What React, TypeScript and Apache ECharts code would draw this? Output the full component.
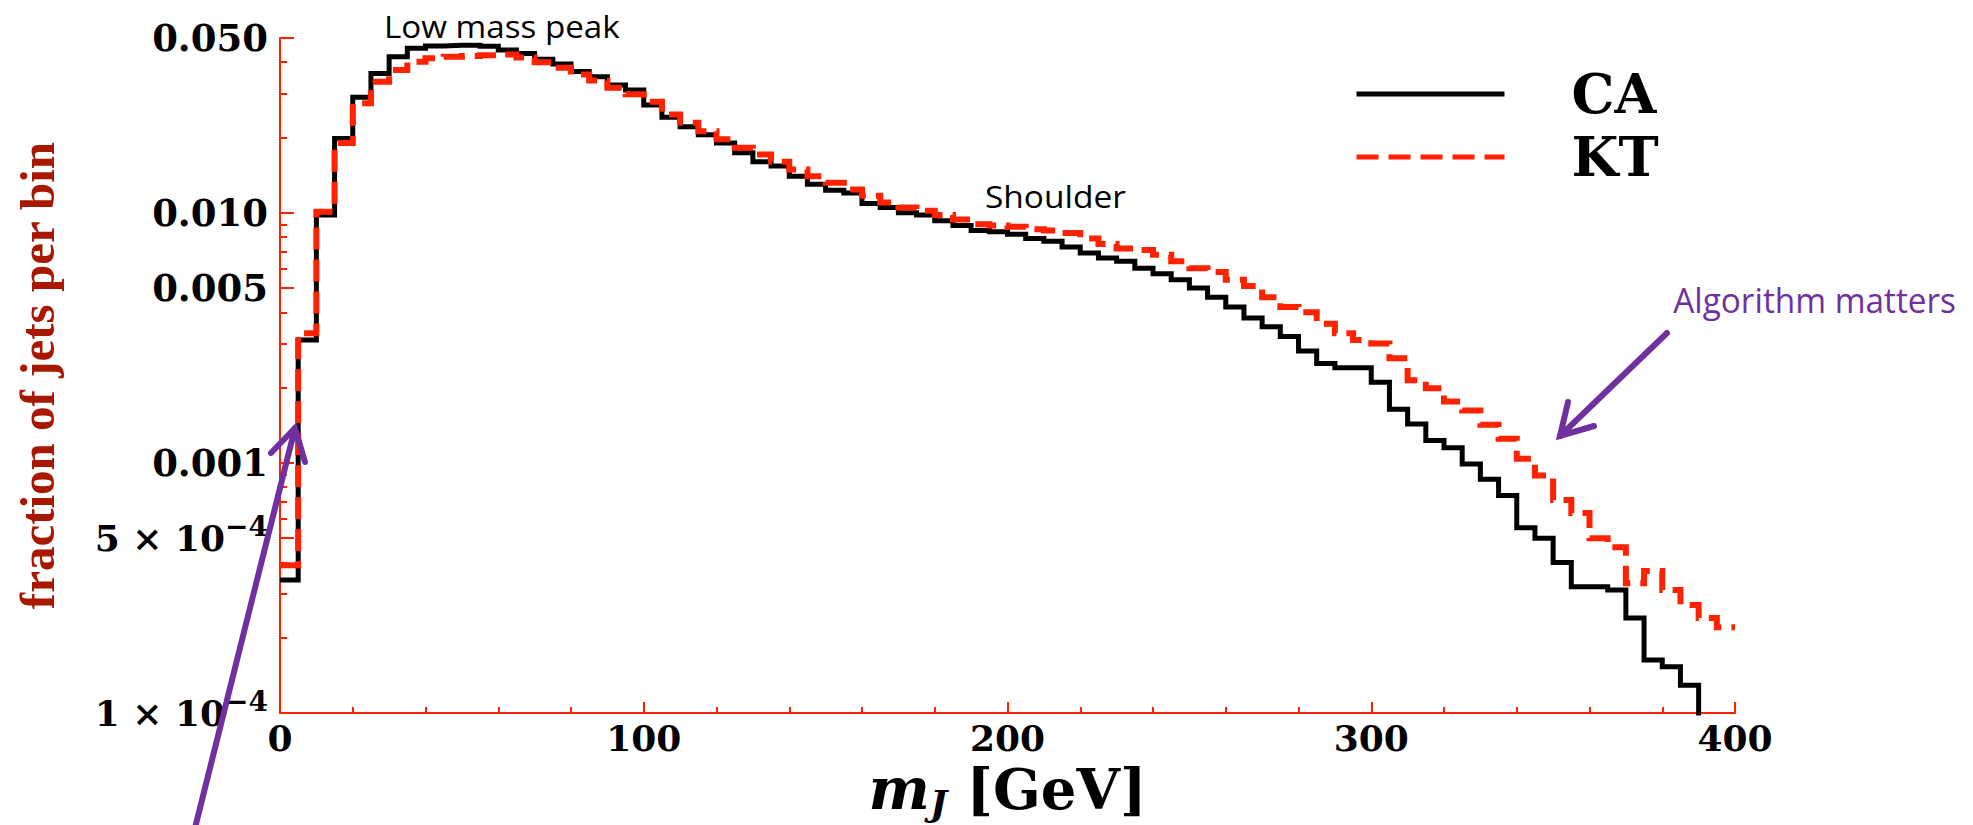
import React, { useEffect, useRef } from "react";
import * as echarts from "echarts";

// ---------------- data ----------------
const BIN_WIDTH_GEV = 5;

// CA: fraction of jets per 5 GeV bin (bins starting at 0, 5, 10, ... GeV); last bin falls below the axis
const caFractions = [
  0.00034, 0.0031, 0.0098, 0.0198, 0.029, 0.0361, 0.0421, 0.0455, 0.0465, 0.0468,
  0.0468, 0.0463, 0.0448, 0.0434, 0.0411, 0.0394, 0.0367, 0.035, 0.0324, 0.031,
  0.027, 0.0241, 0.0221, 0.0205, 0.019, 0.0174, 0.016, 0.0154, 0.014, 0.013,
  0.0123, 0.012, 0.0109, 0.0105, 0.01, 0.0098, 0.0093, 0.0089, 0.0085, 0.0084,
  0.0082, 0.0079, 0.0077, 0.0073, 0.0069, 0.0066, 0.0064, 0.006, 0.0057, 0.0054,
  0.005, 0.0046, 0.0042, 0.0038, 0.0035, 0.0032, 0.0028, 0.0025, 0.0024, 0.0024,
  0.0021, 0.00164, 0.00143, 0.00123, 0.00115, 0.00099, 0.00086, 0.00074, 0.00055, 0.0005,
  0.0004, 0.00032, 0.00032, 0.00031, 0.00024, 0.000163, 0.000153, 0.000129, 0.00008,
];

// KT: fraction of jets per 5 GeV bin
const ktFractions = [
  0.00039, 0.0033, 0.0101, 0.019, 0.0274, 0.0334, 0.0372, 0.0402, 0.0415, 0.0421,
  0.0424, 0.0427, 0.043, 0.0418, 0.04, 0.038, 0.0357, 0.0338, 0.0316, 0.0298,
  0.0278, 0.0247, 0.0229, 0.0212, 0.0197, 0.0182, 0.0171, 0.016, 0.0149, 0.014,
  0.0132, 0.0124, 0.0117, 0.011, 0.0105, 0.0102, 0.0098, 0.0094, 0.009, 0.0089,
  0.0088, 0.0086, 0.0085, 0.0083, 0.0079, 0.0075, 0.0072, 0.0071, 0.0068, 0.0064,
  0.006, 0.0058, 0.0054, 0.0051, 0.0046, 0.0042, 0.004, 0.0036, 0.0033, 0.0031,
  0.003, 0.00262, 0.00214, 0.00199, 0.00176, 0.00162, 0.00142, 0.00125, 0.00104, 0.00089,
  0.00071, 0.00063, 0.0005, 0.00046, 0.00033, 0.00037, 0.00031, 0.00027, 0.00024, 0.00022,
];

const seriesNames = ["CA", "KT"];
const xTickValues = [0, 100, 200, 300, 400];
const yMajorTickValues = [0.0001, 0.0005, 0.001, 0.005, 0.01, 0.05];
const yMajorTickLabels = ["{b|1 × 10}{s|−4}", "{b|5 × 10}{s|−4}", "0.001", "0.005", "0.010", "0.050"];
const yMinorTickValues = [
  0.0002, 0.0003, 0.0004, 0.0006, 0.0007, 0.0008, 0.0009,
  0.002, 0.003, 0.004, 0.006, 0.007, 0.008, 0.009,
  0.02, 0.03, 0.04,
];
const xAxisTitle = "{m|m}{j|J}{g| [GeV]}";
const yAxisTitle = "fraction of jets per bin";
const annotationTexts = ["Low mass peak", "Shoulder", "Algorithm matters"];

// ---------------- styling ----------------
const RED = "#ff2200";
const PURPLE = "#7030a0";
const SERIF = "DejaVu Serif";

function toSteps(values: number[]): [number, number][] {
  const pts: [number, number][] = values.map((v, i) => [i * BIN_WIDTH_GEV, v]);
  pts.push([values.length * BIN_WIDTH_GEV, values[values.length - 1]]);
  return pts;
}

function yLabel(v: number): string {
  const i = yMajorTickValues.findIndex((t) => Math.abs(t - v) / t < 1e-6);
  return i >= 0 ? yMajorTickLabels[i] : "";
}

function buildOption(): any {
  const tickLine = { color: RED, width: 2 };
  return {
    animation: false,
    backgroundColor: "#ffffff",
    grid: {
      left: 280,
      top: 38,
      width: 1455,
      height: 675,
      containLabel: false,
      outerBoundsMode: "none",
    },
    legend: {
      data: seriesNames,
      orient: "vertical",
      left: 1354,
      top: 66,
      padding: 0,
      itemWidth: 148,
      itemHeight: 56,
      itemGap: 7,
      selectedMode: false,
      itemStyle: { opacity: 0 },
      lineStyle: { width: 5 },
      textStyle: {
        fontFamily: SERIF,
        fontWeight: "bold",
        fontSize: 54,
        lineHeight: 56,
        color: "#000",
        padding: [0, 0, 0, 62],
      },
    },
    xAxis: [
      {
        type: "value",
        min: xTickValues[0],
        max: xTickValues[xTickValues.length - 1],
        interval: 100,
        position: "bottom",
        axisLine: { show: true, onZero: false, lineStyle: tickLine },
        axisTick: { show: true, inside: true, length: 11, lineStyle: tickLine },
        minorTick: { show: true, splitNumber: 5, length: 6, lineStyle: tickLine },
        splitLine: { show: false },
        minorSplitLine: { show: false },
        axisLabel: {
          margin: 7,
          color: "#000",
          fontFamily: SERIF,
          fontWeight: "bold",
          fontSize: 36,
        },
        name: xAxisTitle,
        nameLocation: "middle",
        nameGap: 44,
        nameMoveOverlap: false,
        nameTextStyle: {
          rich: {
            m: { fontFamily: SERIF, fontStyle: "italic", fontWeight: "bold", fontSize: 58, lineHeight: 64, color: "#000" },
            j: { fontFamily: SERIF, fontStyle: "italic", fontWeight: "bold", fontSize: 36, lineHeight: 36, verticalAlign: "bottom", color: "#000" },
            g: { fontFamily: SERIF, fontWeight: "bold", fontSize: 56, lineHeight: 64, color: "#000" },
          },
        },
      },
    ],
    yAxis: [
      {
        type: "log",
        logBase: 10,
        min: yMajorTickValues[0],
        max: yMajorTickValues[yMajorTickValues.length - 1],
        position: "left",
        axisLine: { show: true, onZero: false, lineStyle: tickLine },
        axisTick: { show: true, inside: true, length: 14, customValues: yMajorTickValues, lineStyle: tickLine },
        splitLine: { show: false },
        axisLabel: {
          customValues: yMajorTickValues,
          formatter: yLabel,
          margin: 12,
          color: "#000",
          fontFamily: SERIF,
          fontWeight: "bold",
          fontSize: 37,
          rich: {
            b: { fontFamily: SERIF, fontWeight: "bold", fontSize: 36, lineHeight: 52, color: "#000" },
            s: { fontFamily: SERIF, fontWeight: "bold", fontSize: 28, lineHeight: 28, verticalAlign: "top", color: "#000" },
          },
        },
        name: yAxisTitle,
        nameLocation: "middle",
        nameRotate: 90,
        nameGap: 218,
        nameMoveOverlap: false,
        nameTextStyle: {
          fontFamily: "Liberation Serif",
          fontWeight: "bold",
          fontSize: 49,
          color: "#a81800",
        },
      },
      {
        type: "log",
        logBase: 10,
        min: yMajorTickValues[0],
        max: yMajorTickValues[yMajorTickValues.length - 1],
        position: "left",
        axisLine: { show: false },
        axisTick: { show: true, inside: true, length: 7, customValues: yMinorTickValues, lineStyle: tickLine },
        axisLabel: { show: false },
        splitLine: { show: false },
      },
    ],
    series: [
      {
        name: seriesNames[0],
        type: "line",
        step: "end",
        data: toSteps(caFractions),
        symbol: "none",
        clip: true,
        z: 3,
        itemStyle: { color: "#000" },
        lineStyle: { color: "#000", width: 5, join: "miter", cap: "butt" },
      },
      {
        name: seriesNames[1],
        type: "line",
        step: "end",
        data: toSteps(ktFractions),
        symbol: "none",
        clip: true,
        z: 4,
        itemStyle: { color: RED },
        lineStyle: { color: RED, width: 6, type: [22, 10], join: "miter", cap: "butt" },
      },
    ],
    graphic: [
      {
        type: "text",
        x: 384,
        y: 26,
        scaleX: 1.07,
        z: 100,
        style: { text: annotationTexts[0], fontFamily: "Open Sans", fontSize: 31, fill: "#000", textAlign: "left", textVerticalAlign: "middle", align: "left", verticalAlign: "middle" },
      },
      {
        type: "text",
        x: 985,
        y: 196,
        scaleX: 1.08,
        z: 100,
        style: { text: annotationTexts[1], fontFamily: "Open Sans", fontSize: 31, fill: "#000", textAlign: "left", textVerticalAlign: "middle", align: "left", verticalAlign: "middle" },
      },
      {
        type: "text",
        x: 1956,
        y: 300,
        scaleX: 0.98,
        z: 100,
        style: { text: annotationTexts[2], fontFamily: "Open Sans", fontSize: 34, fill: PURPLE, textAlign: "right", textVerticalAlign: "middle", align: "right", verticalAlign: "middle" },
      },
      {
        type: "line",
        z: 100,
        shape: { x1: 194, y1: 832, x2: 295, y2: 428 },
        style: { stroke: PURPLE, lineWidth: 6, lineCap: "round" },
      },
      {
        type: "polyline",
        z: 100,
        shape: { points: [[271, 453], [295, 428], [305, 462]] },
        style: { stroke: PURPLE, lineWidth: 6, lineCap: "round", lineJoin: "miter", fill: null },
      },
      {
        type: "line",
        z: 100,
        shape: { x1: 1667, y1: 333, x2: 1560, y2: 436 },
        style: { stroke: PURPLE, lineWidth: 6, lineCap: "round" },
      },
      {
        type: "polyline",
        z: 100,
        shape: { points: [[1568, 402], [1560, 436], [1594, 426]] },
        style: { stroke: PURPLE, lineWidth: 6, lineCap: "round", lineJoin: "miter", fill: null },
      },
    ],
  };
}

export default function App() {
  const ref = useRef<HTMLDivElement>(null);
  useEffect(() => {
    if (!ref.current) return;
    const chart = echarts.init(ref.current, undefined, { renderer: "svg" });
    chart.setOption(buildOption());
    return () => chart.dispose();
  }, []);
  return (
    <div
      ref={ref}
      style={{ position: "absolute", left: 0, top: 0, width: 1973, height: 825, background: "#fff" }}
    />
  );
}
